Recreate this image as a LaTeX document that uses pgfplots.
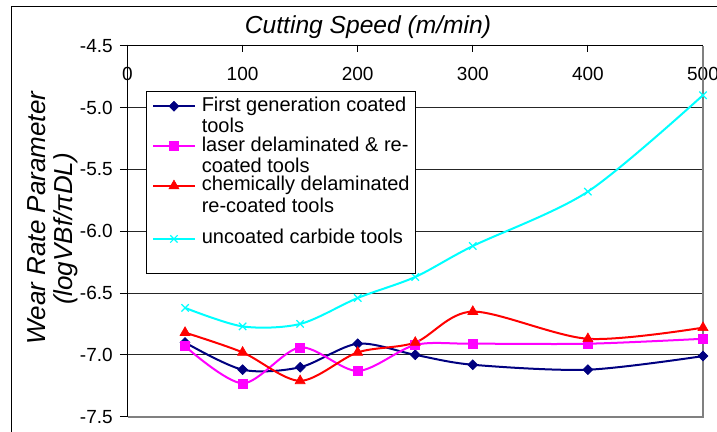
\documentclass[border=0pt]{standalone}
\usepackage{fontspec}
\setmainfont{Liberation Sans}
\usepackage{pgfplots}
\pgfplotsset{compat=1.18}
\definecolor{navyc}{RGB}{0,0,128}
\definecolor{magc}{RGB}{255,0,255}
\definecolor{redc}{RGB}{255,0,0}
\definecolor{cyanc}{RGB}{0,255,255}
\newcommand{\twol}[2]{\vbox{\offinterlineskip\hbox{\strut #1}\hbox{\strut #2}}}
\begin{document}
\begin{tikzpicture}[x=1pt,y=1pt]
\path[use as bounding box] (0,0) rectangle (358.5,216);
\fill[white] (0,0) rectangle (358.5,216);
\draw[black, line width=0.75pt] (5.85,-5) -- (5.85,212.65) -- (365,212.65);
\begin{axis}[
  at={(63.75pt,7.65pt)}, anchor=south west,
  scale only axis, width=287.75pt, height=185.5pt,
  xmin=0, xmax=500, ymin=-7.5, ymax=-4.5,
  clip=false,
  axis line style={draw=none},
  xtick={0,100,200,300,400,500},
  xticklabels={0,100,200,300,400,500},
  ytick={-7.5,-7,-6.5,-6,-5.5,-5,-4.5},
  yticklabels={-7.5,-7.0,-6.5,-6.0,-5.5,-5.0,-4.5},
  xtick pos=upper, ytick pos=left,
  xticklabel pos=upper,
  tick align=outside,
  major tick length=3.85pt,
  tick style={black, line width=0.5pt},
  every major x tick/.append style={yshift=-3.35pt},
  ymajorgrids,
  grid style={black!85, line width=0.5pt},
  ticklabel style={font=\fontsize{9.5}{11}\selectfont},
  xticklabel style={anchor=base, yshift=-21.5pt},
  legend style={
    at={(rel axis cs:0.0321,0.8787)}, anchor=north west,
    draw=black, line width=0.5pt, fill=white,
    inner xsep=2.85pt, inner ysep=2.4pt,
    font=\fontsize{10}{10.85}\selectfont,
    nodes={inner sep=0pt},
    cells={anchor=base west},
    column sep=3pt, row sep=0pt,
  },
  legend image code/.code={
    \draw[mark repeat=2,mark phase=2,#1] plot coordinates {(0pt,13.35pt) (10.4pt,13.35pt) (20.8pt,13.35pt)};
  },
  every axis plot/.append style={line width=1pt, smooth, tension=0.5},
]
\draw[gray, line width=1pt] (rel axis cs:0,0) -- (rel axis cs:1,0) -- (rel axis cs:1,1);
\draw[black, line width=0.6pt] (rel axis cs:0,0) -- (rel axis cs:0,1) -- (rel axis cs:1,1);

\addplot[color=navyc, mark=square*, mark size=1.75pt, mark options={rotate=45, fill=navyc, line width=0.3pt}]
  coordinates {(50,-6.90) (100,-7.12) (150,-7.10) (200,-6.91) (250,-7.00) (300,-7.08) (400,-7.12) (500,-7.01)};
\addlegendentry{\twol{First generation coated}{tools}}

\addplot[color=magc, mark=square*, mark size=2.25pt, mark options={fill=magc, line width=0.3pt}]
  coordinates {(50,-6.93) (100,-7.23) (150,-6.94) (200,-7.13) (250,-6.92) (300,-6.91) (400,-6.91) (500,-6.87)};
\addlegendentry{\twol{laser delaminated \& re-}{coated tools}}

\addplot[color=redc, mark=triangle*, mark size=2.9pt, mark options={fill=redc, line width=0.3pt}]
  coordinates {(50,-6.82) (100,-6.98) (150,-7.21) (200,-6.98) (250,-6.90) (300,-6.65) (400,-6.87) (500,-6.78)};
\addlegendentry{\twol{chemically delaminated}{re-coated tools}}

\addplot[color=cyanc, mark=x, mark size=2.6pt, mark options={line width=0.6pt}]
  coordinates {(50,-6.62) (100,-6.77) (150,-6.75) (200,-6.54) (250,-6.37) (300,-6.12) (400,-5.68) (500,-4.90)};
\addlegendentry{\vbox{\offinterlineskip\hbox{\rule{0pt}{14.1pt}\strut uncoated carbide tools}\hbox{\rule[-8.8pt]{0pt}{16.4pt}}}}
\end{axis}
\node[anchor=base, font=\fontsize{12.3}{14}\selectfont\itshape] at (184,199.35) {Cutting Speed (m/min)};
\node[anchor=base, rotate=90, font=\fontsize{13}{15}\selectfont\itshape] at (23,107) {Wear Rate Parameter};
\node[anchor=base, rotate=90, font=\fontsize{13}{15}\selectfont\itshape] at (36,101.5) {(logVBf/πDL)};
\end{tikzpicture}
\end{document}
